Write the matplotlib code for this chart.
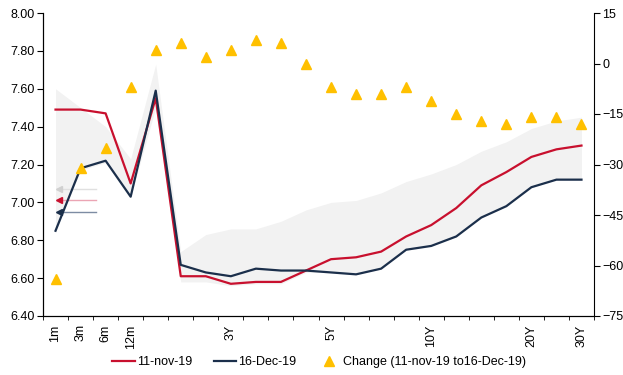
import numpy as np
import matplotlib
matplotlib.use("Agg")
import matplotlib.pyplot as plt

plt.rcParams['font.family'] = ['Liberation Sans', 'DejaVu Sans']

# tenors (only some are labelled on the chart)
tenors = ["1m", "3m", "6m", "12m", "", "", "", "3Y", "", "", "", "5Y",
          "", "", "", "10Y", "", "", "", "20Y", "", "30Y"]

curve_nov = [7.49, 7.49, 7.47, 7.10, 7.55, 6.61, 6.61, 6.57, 6.58, 6.58, 6.64,
             6.70, 6.71, 6.74, 6.82, 6.88, 6.97, 7.09, 7.16, 7.24, 7.28, 7.30]
curve_dec = [6.85, 7.18, 7.22, 7.03, 7.59, 6.67, 6.63, 6.61, 6.65, 6.64, 6.64,
             6.63, 6.62, 6.65, 6.75, 6.77, 6.82, 6.92, 6.98, 7.08, 7.12, 7.12]
change_bp = [-64, -31, -25, -7, 4, 6, 2, 4, 7, 6, 0,
             -7, -9, -9, -7, -11, -15, -17, -18, -16, -16, -18]

# grey range band
band_hi = [7.60, 7.50, 7.40, 7.23, 7.73, 6.74, 6.83, 6.86, 6.86, 6.90, 6.96,
           7.00, 7.01, 7.05, 7.11, 7.15, 7.20, 7.27, 7.32, 7.39, 7.43, 7.45]
band_lo = [6.85, 7.17, 7.21, 7.03, 7.50, 6.58, 6.58, 6.56, 6.57, 6.57, 6.63,
           6.63, 6.62, 6.65, 6.75, 6.77, 6.82, 6.92, 6.98, 7.08, 7.12, 7.12]

RED = "#C8102E"
NAVY = "#1B2F4B"
GOLD = "#FFC000"

x = np.arange(len(tenors))

fig = plt.figure(figsize=(6.23, 3.75), dpi=100)
ax = fig.add_axes([43/623, 1-316/375, 551/623, 303/375])
ax2 = ax.twinx()

ax.fill_between(x, band_lo, band_hi, color="#F2F2F2", lw=0, zorder=1)
l1, = ax.plot(x, curve_nov, color=RED, lw=1.6, zorder=3, label="11-nov-19")
l2, = ax.plot(x, curve_dec, color=NAVY, lw=1.6, zorder=3, label="16-Dec-19")
sc, = ax2.plot(x, change_bp, ls="none", marker="^", ms=7, color=GOLD,
               label="Change (11-nov-19 to16-Dec-19)")

# little arrows at the left
for yy, lc, hc in [(7.07, "#E0E0E0", "#D0D0D0"), (7.01, "#EBA5B4", RED), (6.95, "#7D8CA3", NAVY)]:
    ax.plot([0.15, 1.6], [yy, yy], color=lc, lw=1.0, zorder=2)
    ax.plot([0.12], [yy], marker="<", ms=4, color=hc, zorder=2)

ax.set_xlim(-0.5, len(tenors) - 0.5)
ax.set_ylim(6.40, 8.00)
ax.set_yticks(np.arange(6.4, 8.01, 0.2))
ax.set_yticklabels([f"{v:.2f}" for v in np.arange(6.4, 8.01, 0.2)])
ax2.set_ylim(-75, 15)
ax2.set_yticks(range(-75, 16, 15))

ax.set_xticks(x)
ax.set_xticklabels(tenors, rotation=90)
ax.set_xticks(np.arange(-0.5, len(tenors), 1), minor=True)
ax.tick_params(axis="x", which="major", length=0, pad=6, labelsize=9)
ax.tick_params(axis="x", which="minor", length=3, direction="out")
ax.tick_params(axis="y", labelsize=9, length=4, pad=2)
ax2.tick_params(axis="y", labelsize=9, length=4, pad=2)

for a in (ax, ax2):
    a.spines["top"].set_visible(False)
ax.spines["right"].set_visible(False)

fig.legend(handles=[l1, l2, sc], loc="center", bbox_to_anchor=(0.512, 1 - 362/375),
           ncol=3, frameon=False, fontsize=9, handlelength=1.8, handletextpad=0.2,
           columnspacing=1.7)

fig.savefig("out.png", dpi=100)
